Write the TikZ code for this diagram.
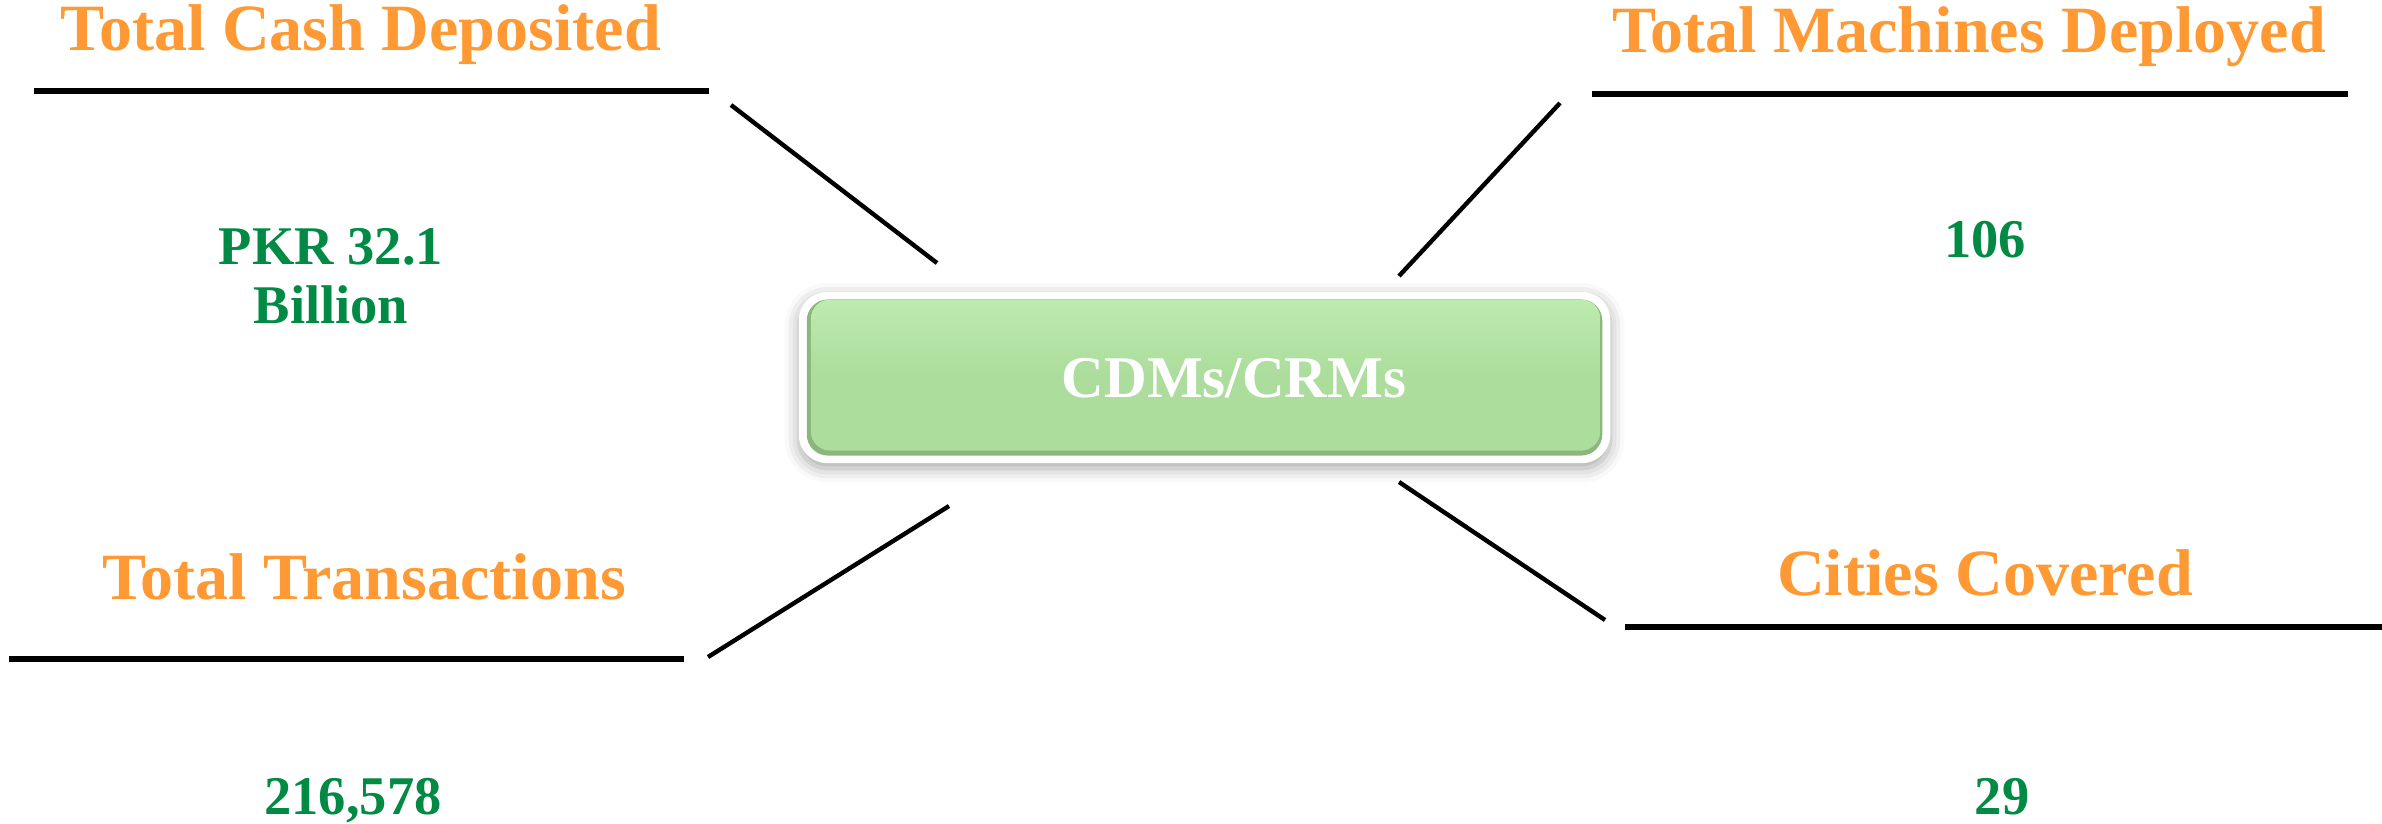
\documentclass[tikz,border=0pt]{standalone}
\usepackage{fontspec}
\setmainfont{Liberation Serif}
\usetikzlibrary{shadows.blur}
\definecolor{headorange}{RGB}{255,153,51}
\definecolor{valgreen}{RGB}{0,138,68}
\definecolor{hubgreen}{RGB}{172,221,156}
\definecolor{hubedge}{RGB}{140,182,124}
\definecolor{hubtop}{RGB}{190,235,175}
\tikzset{
  head/.style={text=headorange, font=\fontsize{18.8}{22}\selectfont\bfseries, anchor=base, inner sep=0pt},
  val/.style={text=valgreen, font=\fontsize{15.5}{16.5}\selectfont\bfseries, anchor=base, inner sep=0pt, align=center},
  rule/.style={line width=1.45pt},
  spoke/.style={line width=1.25pt}
}
\begin{document}
\begin{tikzpicture}[x=0.01cm,y=-0.01cm]
\useasboundingbox (0,0) rectangle (2382,823);
% hub box
\node[fill=white, rounded corners=8pt, minimum width=8.11cm, minimum height=1.71cm,
  blur shadow={shadow xshift=0pt, shadow yshift=-1.5pt, shadow blur radius=4pt, shadow opacity=35}] (hub) at (1204.5,377.5) {};
\node[fill=hubedge, rounded corners=6pt, minimum width=7.95cm, minimum height=1.56cm] (hubin) at (hub) {};
\node[top color=hubtop, bottom color=hubgreen, middle color=hubgreen, rounded corners=5.5pt,
  minimum width=7.89cm, minimum height=1.51cm] (hubface) at ([xshift=0.3pt, yshift=0.7pt]hub) {};
\node[text=white, font=\fontsize{16.8}{20}\selectfont\bfseries, anchor=base, inner sep=0pt] (hubtext) at (1234,397) {CDMs/CRMs};
% headings and values
\node[head] (cash) at (361,50) {Total Cash Deposited};
\node[head] (machines) at (1969,52) {Total Machines Deployed};
\node[head] (trans) at (364,599) {Total Transactions};
\node[head] (cities) at (1985,595) {Cities Covered};
\node[val] (cashval) at (331,323) {PKR 32.1\\Billion};
\node[val] (machval) at (1985,257) {106};
\node[val] (transval) at (353,814) {216,578};
\node[val] (cityval) at (2002,814) {29};
% rules under headings
\coordinate (tl1) at (34,91);   \coordinate (tl2) at (709,91);
\coordinate (tr1) at (1592,94); \coordinate (tr2) at (2348,94);
\coordinate (bl1) at (9,659);   \coordinate (bl2) at (684,659);
\coordinate (br1) at (1625,627); \coordinate (br2) at (2382,627);
\draw[rule] (tl1) -- (tl2);
\draw[rule] (tr1) -- (tr2);
\draw[rule] (bl1) -- (bl2);
\draw[rule] (br1) -- (br2);
% spokes
\coordinate (ul1) at (731,105);  \coordinate (ul2) at (937,263);
\coordinate (ur1) at (1560,103); \coordinate (ur2) at (1399,276);
\coordinate (ll1) at (949,506);  \coordinate (ll2) at (708,657);
\coordinate (lr1) at (1399,482); \coordinate (lr2) at (1605,620);
\draw[spoke] (ul1) -- (ul2);
\draw[spoke] (ur1) -- (ur2);
\draw[spoke] (ll1) -- (ll2);
\draw[spoke] (lr1) -- (lr2);
\end{tikzpicture}
\end{document}
